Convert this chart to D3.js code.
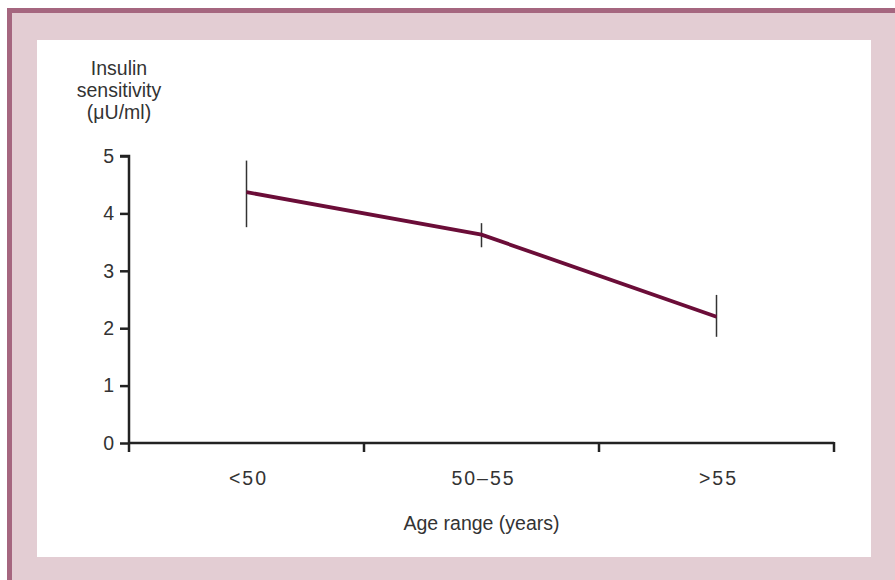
<!DOCTYPE html>
<html>
<head>
<meta charset="utf-8">
<script src="https://cdn.jsdelivr.net/npm/d3@7"></script>
<style>
  body { margin: 0; background: #ffffff; }
  svg { display: block; font-family: "Liberation Sans", Arial, sans-serif; }
</style>
</head>
<body>
<div id="plot"></div>
<script>
// chart values
var ageGroups = ["<50", "50\u201355", ">55"];
var meanValues = [4.37, 3.63, 2.2];
var upperValues = [4.92, 3.83, 2.58];
var lowerValues = [3.76, 3.41, 1.85];
var yTicks = [0, 1, 2, 3, 4, 5];

var W = 895, H = 580;
var margin = {top: 156, right: 61, bottom: 137, left: 129};
var width = W - margin.left - margin.right;
var height = H - margin.top - margin.bottom;

var svg = d3.select("#plot").append("svg")
    .attr("width", W)
    .attr("height", H);

//Frame: dark edge, pink mat, white panel
svg.append("rect").attr("x", 7).attr("y", 8).attr("width", W - 7).attr("height", H - 8)
    .attr("fill", "#a5667f");
svg.append("rect").attr("x", 12).attr("y", 13).attr("width", W - 12).attr("height", H - 13)
    .attr("fill", "#e3cdd3");
svg.append("rect").attr("x", 37).attr("y", 40).attr("width", 834).attr("height", 517)
    .attr("fill", "#ffffff");

var g = svg.append("g")
    .attr("transform", "translate(" + margin.left + "," + margin.top + ")");

var xScale = d3.scaleBand().domain(ageGroups).range([0, width]).padding(0);
var yScale = d3.scaleLinear().domain([0, 5]).range([height, 0]);

//y axis
var yAxis = d3.axisLeft(yScale).tickValues(yTicks).tickFormat(d3.format("d"))
    .tickSize(9).tickPadding(6);
var yg = g.append("g").attr("class", "y axis").call(yAxis);
yg.select(".domain").attr("stroke", "#222").attr("stroke-width", 2.5)
    .attr("d", "M0," + (height + 9) + "V0H-9");
yg.selectAll(".tick line").attr("stroke", "#222").attr("stroke-width", 2.5);
yg.selectAll(".tick text").attr("fill", "#333")
    .style("font-family", "'Liberation Sans', Arial, sans-serif").style("font-size", "19.5px");

//x axis: line with ticks at group boundaries, labels at centres
var xg = g.append("g").attr("class", "x axis")
    .attr("transform", "translate(0," + height + ")");
xg.append("line").attr("x1", 0).attr("x2", width)
    .attr("stroke", "#222").attr("stroke-width", 2.5);
xg.selectAll(".bound")
    .data(ageGroups)
  .enter().append("line")
    .attr("class", "bound")
    .attr("x1", function(d) { return xScale(d) + xScale.bandwidth(); })
    .attr("x2", function(d) { return xScale(d) + xScale.bandwidth(); })
    .attr("y1", -1).attr("y2", 9)
    .attr("stroke", "#222").attr("stroke-width", 2.5);
xg.selectAll(".xlabel")
    .data(ageGroups)
  .enter().append("text")
    .attr("class", "xlabel")
    .attr("x", function(d) { return xScale(d) + xScale.bandwidth() / 2 + 2; })
    .attr("y", 42)
    .attr("text-anchor", "middle")
    .attr("fill", "#333")
    .style("font-size", "19.5px")
    .style("letter-spacing", "2px")
    .text(function(d) { return d; });

//axis titles
g.append("text")
    .attr("x", width / 2)
    .attr("y", height + 87)
    .attr("text-anchor", "middle")
    .attr("fill", "#333")
    .style("font-size", "19.5px")
    .text("Age range (years)");

var ytitle = svg.append("text")
    .attr("text-anchor", "middle")
    .attr("fill", "#333")
    .style("font-size", "19.5px");
["Insulin", "sensitivity", "(\u03bcU/ml)"].forEach(function(s, i) {
  ytitle.append("tspan").attr("x", 119).attr("y", 75 + i * 22).text(s);
});

var cx = function(d, i) { return xScale(ageGroups[i]) + xScale.bandwidth() / 2; };

//error bars
g.selectAll(".err")
    .data(meanValues)
  .enter().append("line")
    .attr("class", "err")
    .attr("x1", cx).attr("x2", cx)
    .attr("y1", function(d, i) { return yScale(upperValues[i]); })
    .attr("y2", function(d, i) { return yScale(lowerValues[i]); })
    .attr("stroke", "#333").attr("stroke-width", 1.5);

//mean line
var line = d3.line()
    .x(cx)
    .y(function(d) { return yScale(d); });
g.append("path")
    .datum(meanValues)
    .attr("d", line)
    .attr("fill", "none")
    .attr("stroke", "#6b0d38")
    .attr("stroke-width", 3.8);
</script>
</body>
</html>
